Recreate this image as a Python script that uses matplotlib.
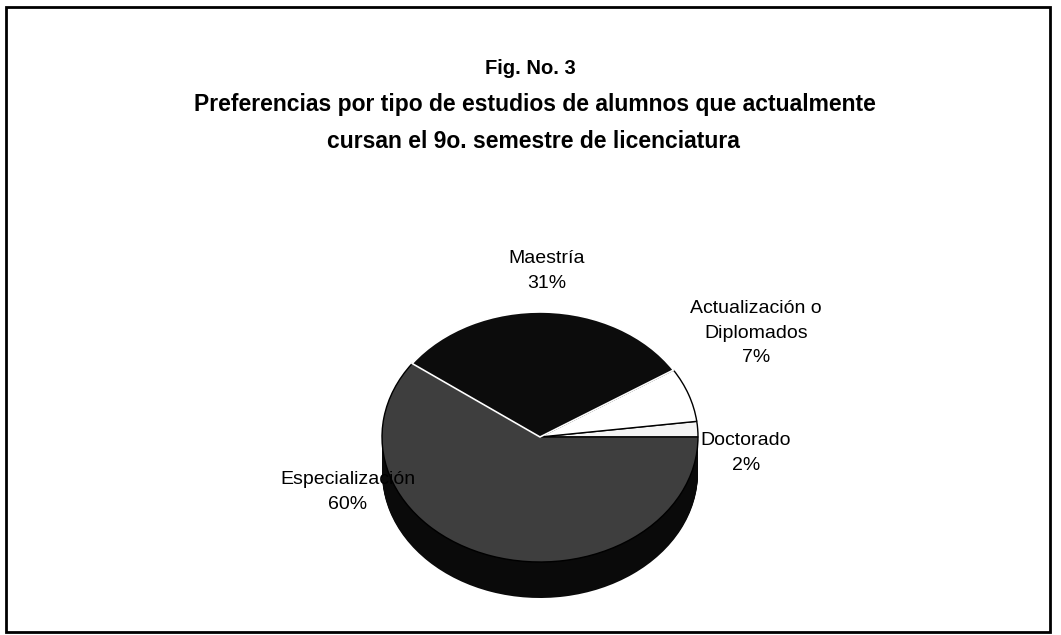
import matplotlib
matplotlib.use("Agg")
import matplotlib.pyplot as plt
from matplotlib.transforms import Affine2D
from matplotlib.patches import Rectangle

# ---- data ----
categories = ["Doctorado", "Actualización o\nDiplomados", "Maestría", "Especialización"]
values = [2, 7, 31, 60]
top_colors = ["#f4f4f4", "#ffffff", "#0c0c0c", "#3e3e3e"]
side_color = "#0a0a0a"
title_lines = ["Fig. No. 3",
               "Preferencias por tipo de estudios de alumnos que actualmente",
               "cursan el 9o. semestre de licenciatura"]

W, H = 1061, 635
fig = plt.figure(figsize=(W / 100, H / 100), dpi=100)
ax = fig.add_axes([0, 0, 1, 1])
plt.rcParams['font.family'] = ['Liberation Sans', 'DejaVu Sans']

# pie geometry (pixels, y up)
cx, cy = 540, H - 437
rx, ry = 158, 125
depth = 36

def tr(dy):
    return Affine2D().scale(rx, ry).translate(cx, cy - dy) + ax.transData

# side (extrusion)
for d in range(depth, 0, -1):
    ax.pie(values, startangle=0, counterclock=True, radius=1,
           colors=[side_color] * len(values),
           wedgeprops=dict(transform=tr(d), linewidth=0, edgecolor=side_color))

# top face
wedges, _ = ax.pie(values, startangle=0, counterclock=True, radius=1,
                   colors=top_colors,
                   wedgeprops=dict(transform=tr(0), linewidth=1.0, edgecolor="black"))
# white seam between Maestría and Especialización
wedges[2].set_edgecolor("white")
wedges[2].set_linewidth(1.2)
wedges[2].set_zorder(wedges[3].get_zorder() + 0.1)

ax.set_aspect("auto")
ax.set_xlim(0, W)
ax.set_ylim(0, H)
ax.axis("off")

# labels
lab_font = dict(fontsize=14, ha="center", va="center", linespacing=1.6, zorder=10)
pct = [f"{v}%" for v in values]
ax.text(746, H - 453, f"{categories[0]}\n{pct[0]}", **lab_font)
ax.text(756, H - 333, f"{categories[1]}\n{pct[1]}", **lab_font)
ax.text(547, H - 271, f"{categories[2]}\n{pct[2]}", **lab_font)
ax.text(348, H - 492, f"{categories[3]}\n{pct[3]}", **lab_font)

# titles
ax.text(530, H - 68, title_lines[0], fontsize=14.5, fontweight="bold",
        ha="center", va="center")
tf = dict(fontsize=16.5, fontweight="bold", ha="center", va="center")
ax.text(535, H - 105, title_lines[1], **tf)
ax.text(533, H - 141, title_lines[2], **tf)

# frame
ax.add_patch(Rectangle((6, H - 632), 1044, 625, fill=False, edgecolor="black",
                       linewidth=2, zorder=20))

fig.savefig("out.png", dpi=100)
